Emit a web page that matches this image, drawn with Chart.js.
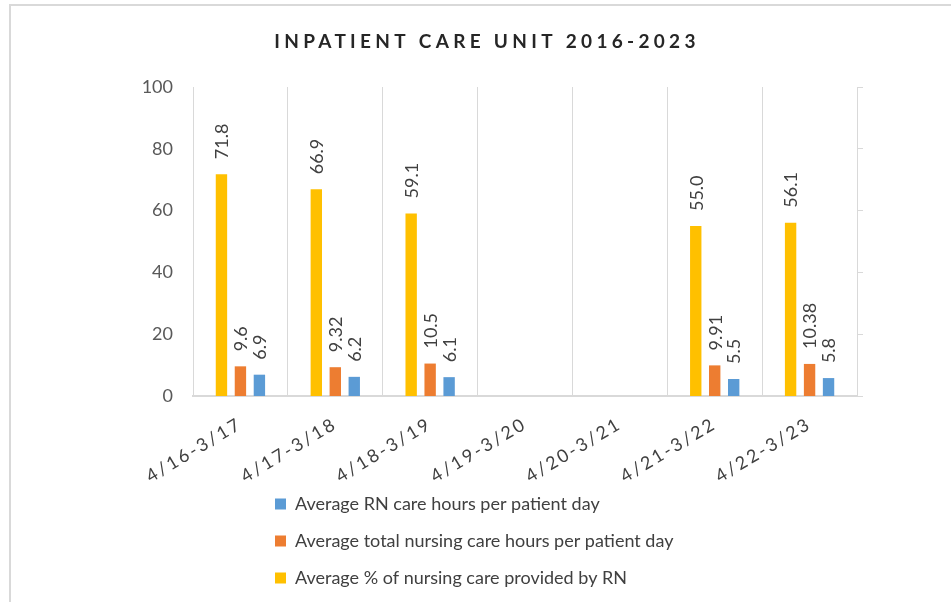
<!DOCTYPE html>
<html><head><meta charset="utf-8">
<script src="https://cdn.jsdelivr.net/npm/chart.js@4.4.1/dist/chart.umd.min.js"></script>
<style>
html,body{margin:0;padding:0;background:#fff;}
#wrap{position:relative;width:951px;height:602px;overflow:hidden;background:#fff;}
#frame{position:absolute;left:9px;top:4px;right:-10px;bottom:-10px;border-top:2px solid #d9d9d9;border-left:2px solid #d9d9d9;}
canvas{position:absolute;left:0;top:0;}
</style></head><body>
<div id="wrap"><div id="frame"></div><canvas id="c" width="951" height="602"></canvas></div>
<script>
// ---- data ----
const categories = ['4/16-3/17','4/17-3/18','4/18-3/19','4/19-3/20','4/20-3/21','4/21-3/22','4/22-3/23'];
const pctRN      = [71.8, 66.9, 59.1, null, null, 55.0, 56.1];
const totalHours = [9.6, 9.32, 10.5, null, null, 9.91, 10.38];
const rnHours    = [6.9, 6.2, 6.1, null, null, 5.5, 5.8];
const seriesNames = [
  'Average % of nursing care provided by RN',
  'Average total nursing care hours per patient day',
  'Average RN care hours per patient day'
];
const labelDecimals = [1, null, 1];
const yTicks = [0, 20, 40, 60, 80, 100];
const titleText = 'INPATIENT CARE UNIT 2016-2023';

const FONT = 'Lato';

const valueLabels = {
  id: 'valueLabels',
  afterDatasetsDraw(chart) {
    const ctx = chart.ctx;
    chart.data.datasets.forEach((ds, di) => {
      const meta = chart.getDatasetMeta(di);
      meta.data.forEach((bar, i) => {
        const v = ds.data[i];
        if (v === null || v === undefined) return;
        const dec = labelDecimals[di];
        const txt = dec === null ? String(v) : v.toFixed(dec);
        ctx.save();
        ctx.translate(bar.x + 1, bar.y - 15);
        ctx.rotate(-Math.PI / 2);
        ctx.font = '18px ' + FONT;
        ctx.fillStyle = '#404040';
        ctx.textAlign = 'left';
        ctx.textBaseline = 'middle';
        ctx.fillText(txt, 0, 0);
        ctx.restore();
      });
    });
  }
};

const spacing = {
  id: 'spacing',
  beforeDraw(chart) {
    const t = chart.titleBlock;
    if (t && !t._wrapped) {
      const d = t.draw;
      t.draw = function () {
        const c = this.ctx; c.save(); c.letterSpacing = '4.3px';
        c.translate(2, 0);
        d.apply(this, arguments); c.restore();
      };
      t._wrapped = true;
    }
    const x = chart.scales.x;
    if (x && !x._wrapped) {
      const d = x.drawLabels;
      x._computeLabelArea = function () { return undefined; };
      x.drawLabels = function () {
        const c = this.ctx; c.save(); c.letterSpacing = '2.5px';
        d.apply(this, arguments); c.restore();
      };
      x._wrapped = true;
    }
  }
};

const legendShift = {
  id: 'legendShift',
  afterLayout(chart) {
    const l = chart.legend;
    if (!l) return;
    const target = chart.chartArea.left + 63;
    const dx = target - l.left;
    l.left += dx; l.right += dx;
  }
};

const setTicks = (axis) => { axis.ticks = yTicks.map(v => ({ value: v })); };

new Chart(document.getElementById('c'), {
  type: 'bar',
  data: {
    labels: categories,
    datasets: [
      { label: seriesNames[0], data: pctRN, backgroundColor: '#FFC000' },
      { label: seriesNames[1], data: totalHours, backgroundColor: '#ED7D31' },
      { label: seriesNames[2], data: rnHours, backgroundColor: '#5B9BD5' }
    ]
  },
  options: {
    responsive: false,
    devicePixelRatio: 1,
    animation: false,
    categoryPercentage: 0.6,
    barPercentage: 0.6,
    layout: { padding: { left: 27, right: 8, top: 0, bottom: 5 } },
    scales: {
      x: {
        grid: { display: true, color: '#d9d9d9', lineWidth: 1, drawTicks: false, offset: true },
        border: { display: true, color: '#d9d9d9', width: 2 },
        ticks: { maxRotation: 31, minRotation: 31, autoSkip: false, color: '#404040',
                 font: { family: FONT, size: 18 }, padding: 17 },
        afterFit: s => { s.height = 80; }
      },
      y: {
        min: 0, max: 100,
        afterBuildTicks: setTicks,
        grid: { display: false, drawTicks: false },
        border: { display: false },
        ticks: { color: '#595959', font: { family: FONT, size: 18 }, padding: 20 },
        afterFit: s => { s.width = 166; }
      },
      y2: {
        position: 'right',
        min: 0, max: 100,
        afterBuildTicks: setTicks,
        grid: { drawOnChartArea: false, color: '#d9d9d9', tickLength: 6, drawTicks: true },
        border: { display: true, color: '#d9d9d9', width: 1 },
        ticks: { display: false },
        afterFit: s => { s.width = 86; }
      }
    },
    plugins: {
      title: {
        display: true, text: titleText, color: '#262626',
        font: { family: FONT, size: 19, weight: 'bold' },
        padding: { top: 30.6, bottom: 33.6 }
      },
      legend: {
        position: 'bottom', fullSize: false, align: 'start', reverse: true,
        labels: { boxWidth: 11, boxHeight: 11, padding: 19, color: '#404040',
                  font: { family: FONT, size: 18 } }
      },
      tooltip: { enabled: false }
    }
  },
  plugins: [valueLabels, spacing, legendShift]
});
</script>
</body></html>
